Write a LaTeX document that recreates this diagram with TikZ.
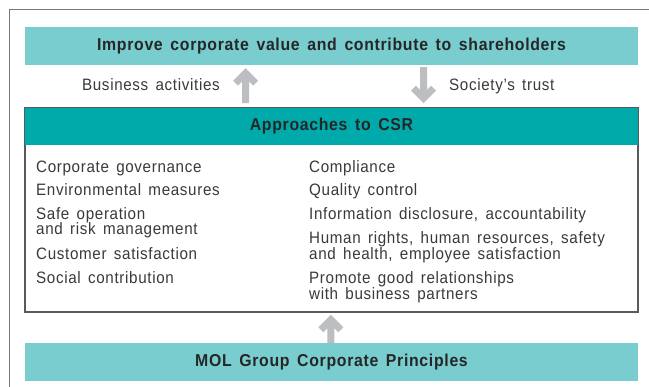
\documentclass[tikz,border=0pt]{standalone}
\usepackage{fontspec}
\setmainfont{Liberation Sans}[FakeStretch=0.92, LetterSpace=4, WordSpace=1.5]
\usetikzlibrary{calc}
\definecolor{lteal}{HTML}{79CDCE}
\definecolor{dteal}{HTML}{00A9AA}
\definecolor{agray}{HTML}{BDBEC2}
\definecolor{frame}{HTML}{777777}
\definecolor{bord}{HTML}{5A5A5A}
\definecolor{txt}{HTML}{3A3A3A}
\tikzset{
  x=1pt, y=-1pt,
  band/.style={minimum width=613pt, minimum height=38pt, inner sep=0pt, font=\fontsize{17.2}{19}\selectfont\bfseries, text=black!85},
  item/.style={anchor=base west, inner sep=0pt, font=\fontsize{16.5}{18}\selectfont, text=txt},
  lbl/.style={inner sep=0pt, font=\fontsize{16.5}{18}\selectfont, text=txt},
  pics/grayarrow/.style args={#1}{code={
    \fill[agray] (0,0) -- (12.5,12.5) -- (7.55,17.45) -- (3.5,13.4) -- (3.5,#1) -- (-3.5,#1) -- (-3.5,13.4) -- (-7.55,17.45) -- (-12.5,12.5) -- cycle;
  }}
}
\begin{document}
\begin{tikzpicture}
\useasboundingbox (0,0) rectangle (649,387);
\fill[white] (0,0) rectangle (649,387);
% outer frame
\draw[frame, line width=1.3pt] (9.5,387) -- (9.5,9.5) -- (649,9.5);
% top band
\node[band, fill=lteal] (top) at (331.5,46) {Improve corporate value and contribute to shareholders};
% CSR box
\node[draw=bord, line width=1.3pt, minimum width=613pt, minimum height=204pt, inner sep=0pt] (csr) at (331.5,210) {};
\node[band, fill=dteal, minimum height=37pt, anchor=north] (hdr) at (csr.north) {Approaches to CSR};
\draw[bord, line width=1.3pt] (csr.north west) rectangle (csr.south east);
% bottom band
\node[band, fill=lteal] (mol) at (331.5,362) {MOL Group Corporate Principles};
% arrows
\coordinate (a1) at ($(top.south west)!0.360!(top.south east)+(0,3)$);
\coordinate (a2) at ($(top.south west)!0.650!(top.south east)+(0,38)$);
\coordinate (a3) at ($(mol.north west)!0.499!(mol.north east)+(0,-28)$);
\pic at (a1) {grayarrow=35};
\pic[rotate=180] at (a2) {grayarrow=36};
\pic at (a3) {grayarrow=28};
\node[lbl, anchor=base east] (ba) at (220,91) {Business activities};
\node[lbl, anchor=base west] (st) at (449,91) {Society’s trust};
% left column
\node[item] (l1) at (36,172.5) {Corporate governance};
\node[item] (l2) at (36,195.5) {Environmental measures};
\node[item] (l3) at (36,219.5) {Safe operation};
\node[item] (l3b) at (36,234.5) {and risk management};
\node[item] (l4) at (36,259.5) {Customer satisfaction};
\node[item] (l5) at (36,283.5) {Social contribution};
% right column
\node[item] (r1) at (309,172.5) {Compliance};
\node[item] (r2) at (309,195.5) {Quality control};
\node[item] (r3) at (309,219.5) {Information disclosure, accountability};
\node[item] (r4) at (309,244) {Human rights, human resources, safety};
\node[item] (r4b) at (309,260) {and health, employee satisfaction};
\node[item] (r5) at (309,283.5) {Promote good relationships};
\node[item] (r5b) at (309,299.5) {with business partners};
\end{tikzpicture}
\end{document}
